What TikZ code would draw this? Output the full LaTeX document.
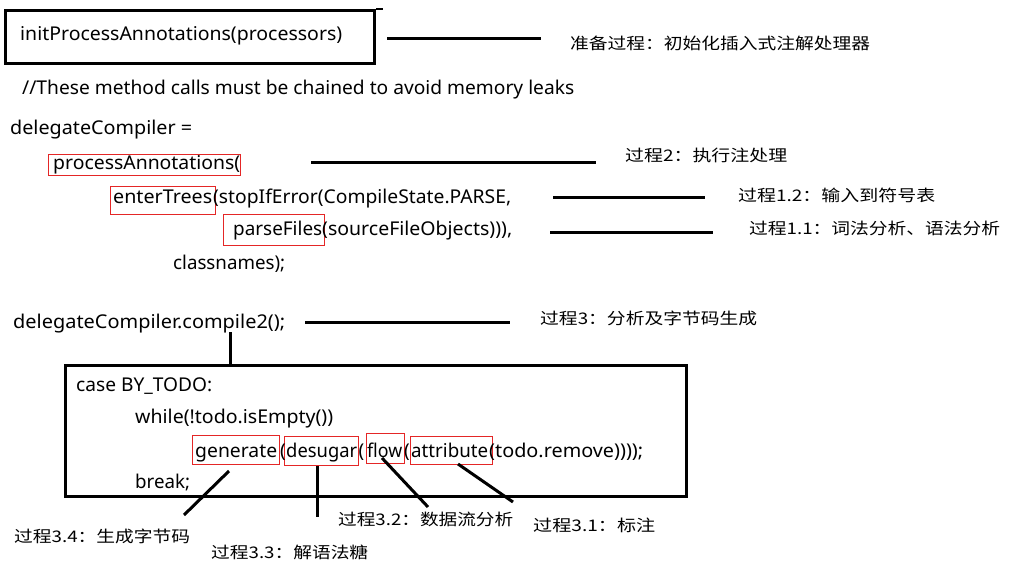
\documentclass[tikz,border=0pt]{standalone}
\usepackage{fontspec}
\usepackage{graphicx}
\setmainfont{Noto Sans}
\newfontfamily\cjkfont{Noto Sans CJK SC}
\newcommand\fitw[2]{\resizebox{#1pt}{\height}{#2}}
\definecolor{boxred}{RGB}{228,38,38}
\tikzset{
  code/.style={inner sep=0pt, anchor=base west, font=\fontsize{19}{23}\selectfont},
  lbl/.style={inner sep=0pt, anchor=west, font=\cjkfont\fontsize{16}{20}\selectfont},
  rbox/.style={draw=boxred, line width=1.2pt, inner sep=0pt, anchor=north west},
  kbox/.style={draw=black, line width=3pt, inner sep=0pt, anchor=north west},
  bar/.style={line width=3pt, line cap=butt},
}
\begin{document}
\begin{tikzpicture}[x=1pt,y=-1pt]
\useasboundingbox (0,0) rectangle (1024,575);
\fill[white] (0,0) rectangle (1024,575);

% top box
\node[kbox, minimum width=369pt, minimum height=53pt] (initbox) at (4,9) {};
\draw[line width=1.5pt] (initbox.north east) -- ++(7,0) coordinate (tick);
\node[code] (init) at (20,41) {\fitw{322}{initProcessAnnotations(processors)}};
\coordinate (l0a) at (387,39); \coordinate (l0b) at (541,39);
\draw[bar] (l0a) -- (l0b);
\node[lbl] (lab0) at (570,43) {\fitw{300}{准备过程：初始化插入式注解处理器}};

% code block
\node[code] (comment) at (22,95) {\fitw{552}{//These method calls must be chained to avoid memory leaks}};
\node[code] (dc) at (10,134) {\fitw{182}{delegateCompiler =}};

\node[rbox, minimum width=192pt, minimum height=21pt] (paBox) at (48,154) {};
\node[code] (pa) at (53,169) {\fitw{187}{processAnnotations(}};
\coordinate (l2a) at (311,162); \coordinate (l2b) at (596,162);
\draw[bar] (l2a) -- (l2b);
\node[lbl] (lab2) at (625,155) {\fitw{162}{过程2：执行注处理}};

\node[rbox, minimum width=105pt, minimum height=28pt] (etBox) at (110,186) {};
\node[code] (et) at (113,203) {\fitw{99}{enterTrees}};
\node[code] (etRest) at (213,203) {\fitw{298}{(stopIfError(CompileState.PARSE,}};
\coordinate (l12a) at (553,197); \coordinate (l12b) at (705,197);
\draw[bar] (l12a) -- (l12b);
\node[lbl] (lab12) at (738,195) {\fitw{197}{过程1.2：输入到符号表}};

\node[rbox, minimum width=101pt, minimum height=31pt] (pfBox) at (223,214) {};
\node[code] (pf) at (233,235) {\fitw{89}{parseFiles}};
\node[code] (pfRest) at (322,235) {\fitw{190}{(sourceFileObjects))),}};
\coordinate (l11a) at (550,232); \coordinate (l11b) at (713,232);
\draw[bar] (l11a) -- (l11b);
\node[lbl] (lab11) at (749,228) {\fitw{251}{过程1.1：词法分析、语法分析}};

\node[code] (cn) at (173,269) {\fitw{112}{classnames);}};

% compile2
\node[code] (c2) at (13,328) {\fitw{272}{delegateCompiler.compile2();}};
\coordinate (l3a) at (305,322); \coordinate (l3b) at (510,322);
\draw[bar] (l3a) -- (l3b);
\node[lbl] (lab3) at (540,318) {\fitw{217}{过程3：分析及字节码生成}};

\node[kbox, minimum width=621pt, minimum height=131pt] (casebox) at (64,364) {};
\coordinate (vtop) at (230,332);
\draw[bar] (vtop) -- (vtop |- casebox.north);

\node[code] (case) at (76,391) {\fitw{136}{case BY\_TODO:}};
\node[code] (while) at (135,423) {\fitw{198}{while(!todo.isEmpty())}};

\node[rbox, minimum width=87pt, minimum height=29pt] (genBox) at (192,435) {};
\node[rbox, minimum width=74pt, minimum height=29pt] (desBox) at (284,436) {};
\node[rbox, minimum width=38pt, minimum height=30pt] (flowBox) at (366,433) {};
\node[rbox, minimum width=82pt, minimum height=28pt] (attrBox) at (410,436) {};
\node[code] (gen) at (195,457) {\fitw{82}{generate}};
\node[code] (p1) at (280,457) {(};
\node[code] (des) at (286,457) {\fitw{71}{desugar}};
\node[code] (p2) at (358.5,457) {(};
\node[code] (flow) at (367,457) {\fitw{35}{flow}};
\node[code] (p3) at (404,457) {(};
\node[code] (attr) at (411,457) {\fitw{77}{attribute}};
\node[code] (rest) at (489,457) {\fitw{154}{(todo.remove))));}};
\node[code] (brk) at (135,488) {\fitw{55}{break;}};

% bottom connectors
\coordinate (g1) at (229,471); \coordinate (g2) at (184,515);
\coordinate (d1) at (317,466); \coordinate (d2) at (317,517);
\coordinate (f1) at (382,458); \coordinate (f2) at (428,507);
\coordinate (a1) at (458,464); \coordinate (a2) at (513,502);
\draw[bar] (g1) -- (g2);
\draw[bar] (d1) -- (d2);
\draw[bar] (f1) -- (f2);
\draw[bar] (a1) -- (a2);

\node[lbl] (lab34) at (14,536) {\fitw{176}{过程3.4：生成字节码}};
\node[lbl] (lab33) at (211,552) {\fitw{157}{过程3.3：解语法糖}};
\node[lbl] (lab32) at (338,519) {\fitw{175}{过程3.2：数据流分析}};
\node[lbl] (lab31) at (533,525) {\fitw{122}{过程3.1：标注}};
\end{tikzpicture}
\end{document}
